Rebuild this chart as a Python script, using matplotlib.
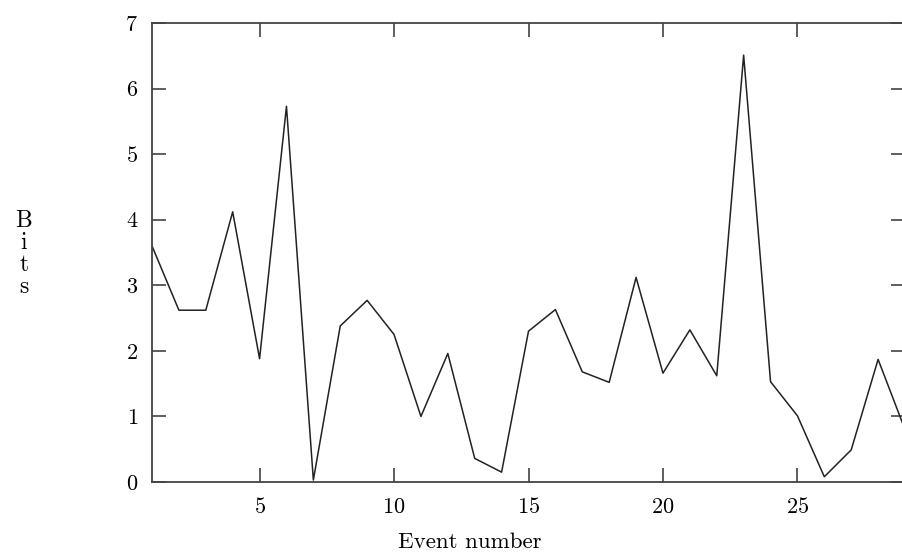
import matplotlib.pyplot as plt
import numpy as np

# Event number vs bits
events = np.arange(1, 30)
bits = [3.6, 2.62, 2.62, 4.12, 1.88, 5.73, 0.03, 2.38, 2.77, 2.25,
        1.0, 1.96, 0.36, 0.15, 2.3, 2.63, 1.68, 1.52, 3.12, 1.66,
        2.32, 1.62, 6.51, 1.53, 1.01, 0.08, 0.49, 1.87, 0.8]
xticks = [5, 10, 15, 20, 25]
yticks = [0, 1, 2, 3, 4, 5, 6, 7]

plt.rcParams['font.family'] = 'cmr10'
plt.rcParams['axes.formatter.use_mathtext'] = True

fig = plt.figure(figsize=(9.02, 5.54), dpi=100)
ax = fig.add_axes([152 / 902, 1 - 482 / 554, (905 - 152) / 902, (482 - 23) / 554])
ax.plot(events, bits, color='#222222', linewidth=1.1)
ax.set_xlim(1, 29)
ax.set_ylim(0, 7)
ax.set_xticks(xticks)
ax.set_yticks(yticks)
ax.tick_params(direction='in', length=10, width=1.1, color='#333333',
               top=True, right=True, labelsize=16)
ax.tick_params(axis='x', pad=11)
ax.tick_params(axis='y', pad=10)
for s in ax.spines.values():
    s.set_color('#444444')
    s.set_linewidth(1.3)

fig.text(470 / 902, 1 - 542 / 554, 'Event number', ha='center', va='center', fontsize=16.5)
fig.text(24 / 902, 1 - 254 / 554, 'B\ni\nt\ns', ha='center', va='center',
         fontsize=17, linespacing=0.98)

fig.savefig('out.png', dpi=100)
